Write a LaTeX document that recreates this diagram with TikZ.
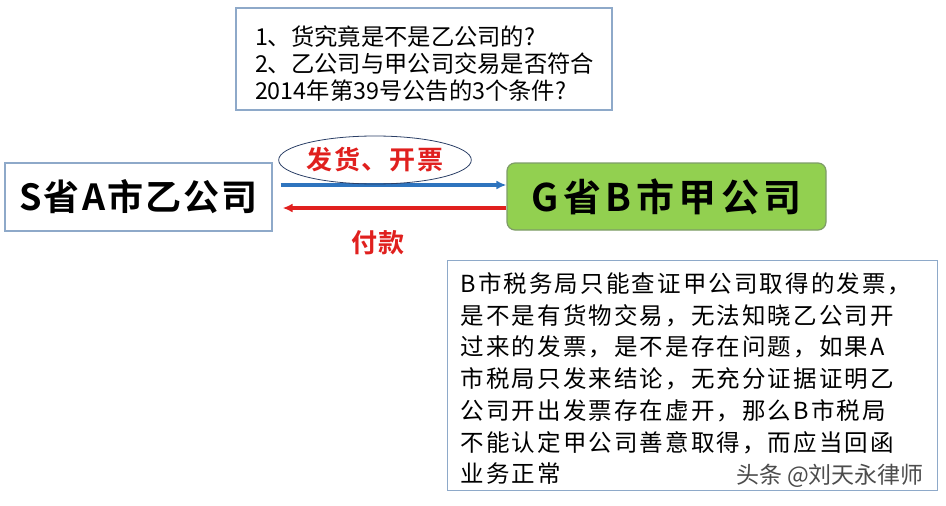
\documentclass[tikz,border=0pt]{standalone}
\usepackage{fontspec}
\usepackage{xcolor}
\usepackage{tikz}
\usetikzlibrary{arrows.meta, positioning, shapes.geometric}
\newfontfamily\cjk{Noto Sans CJK SC}
\newfontfamily\cjknote[LetterSpace=9]{Noto Sans CJK SC}
\newfontfamily\cjkbold[LetterSpace=6]{Noto Sans CJK SC Bold}
\newfontfamily\cjkboldwide[LetterSpace=12]{Noto Sans CJK SC Bold}
\definecolor{edgeblue}{HTML}{8EA9C9}
\definecolor{ovalnavy}{HTML}{2B3F66}
\definecolor{flowblue}{HTML}{2E74BE}
\definecolor{payred}{HTML}{E0201E}
\definecolor{jiagreen}{HTML}{92D050}
\definecolor{jiaedge}{HTML}{7E9C68}
\tikzset{
  textbox/.style={draw=edgeblue, line width=1.2pt, fill=white, align=left, inner sep=0pt},
  firmbox/.style={draw=edgeblue, line width=1.2pt, fill=white, inner sep=0pt},
  flow/.style={line width=3.2pt, -{Latex[length=10pt,width=9pt]}},
  redlabel/.style={text=payred, font=\cjkbold\fontsize{26}{28}\selectfont, inner sep=0pt}
}

\begin{document}
\begin{tikzpicture}[x=1pt, y=-1pt]
    \useasboundingbox (0,0) rectangle (946,506);
    % Question box (top)
    \node[textbox, minimum width=376pt, minimum height=102pt, text width=338pt,
          font=\cjk\fontsize{23.3}{27}\selectfont] (question) at (424,59)
        {\rule{0pt}{30pt}1、货究竟是不是乙公司的?\\
         2、乙公司与甲公司交易是否符合\\
         2014年第39号公告的3个条件?};
    % The two firms
    \node[firmbox, minimum width=267pt, minimum height=68pt,
          font=\cjkbold\fontsize{36}{40}\selectfont] (yi) at (138.5,197) {S省A市乙公司};
    \node[firmbox, draw=jiaedge, fill=jiagreen, rounded corners=8pt,
          minimum width=319pt, minimum height=67pt,
          font=\cjkboldwide\fontsize{38}{40}\selectfont] (jia) at (666.5,196.5) {G省B市甲公司};
    % Goods and invoices one way, payment the other
    \draw[flow, flowblue] ([xshift=8pt,yshift=12pt]yi.east) -- ([yshift=11.5pt]jia.west);
    \draw[flow, payred] ([yshift=-11.5pt]jia.west) -- ([xshift=10pt,yshift=-11pt]yi.east);
    \node[redlabel, draw=ovalnavy, line width=0.8pt, ellipse, minimum width=180pt,
          minimum height=48pt] (goods) at (375,160) {发货、开票};
    \node[redlabel] (payment) at (378,243) {付款};
    % Note on the tax bureau (bottom right)
    \node[textbox, anchor=north west, minimum width=490pt, minimum height=230pt,
          text width=464pt, font=\cjknote\fontsize{23.5}{31.7}\selectfont] (note) at (447,260)
        {\rule{0pt}{26pt}B市税务局只能查证甲公司取得的发票，\\
         是不是有货物交易，无法知晓乙公司开\\
         过来的发票，是不是存在问题，如果A\\
         市税局只发来结论，无充分证据证明乙\\
         公司开出发票存在虚开，那么B市税局\\
         不能认定甲公司善意取得，而应当回函\\
         业务正常};
    \node[text=black!70, font=\cjk\fontsize{23}{25}\selectfont, inner sep=0pt] (mark) at (830,476) {头条 @刘天永律师};
\end{tikzpicture}
\end{document}
